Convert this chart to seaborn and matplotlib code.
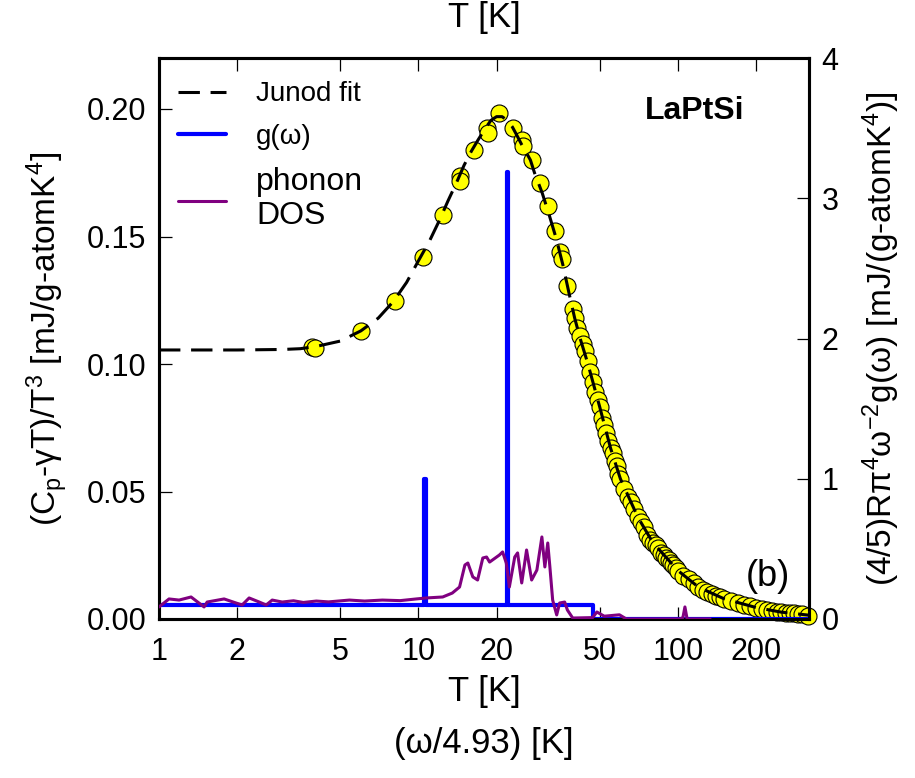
import numpy as np
import pandas as pd
import matplotlib
matplotlib.use("Agg")
import matplotlib.pyplot as plt
from matplotlib.ticker import FixedLocator, NullLocator, FixedFormatter
import seaborn as sns

# ---------------- data ----------------
# measured (Cp - gamma T)/T^3 points
cp_T = [3.9, 4.0, 6.0, 8.1, 10.4, 12.4, 14.4, 14.5, 16.4, 18.3, 18.5, 20.5,
        23.1, 25.0, 25.2, 27.3, 29.3, 31.5, 33.5, 35.0, 35.7, 37.3, 39.3,
        40, 41, 42, 43, 44, 45, 46, 47, 48, 49, 50, 51, 52, 53, 54, 55, 56,
        57, 58, 59, 60, 62, 64, 66, 68, 70, 72, 74, 76, 78, 80, 82, 84, 86,
        88, 90, 92, 94, 96, 98, 100, 105, 110, 115, 120, 125, 130, 135, 140,
        145, 150, 160, 170, 180, 190, 200, 210, 220, 230, 240, 250, 260, 270,
        280, 290, 300, 318]
cp_val = [0.1067, 0.1064, 0.1130, 0.1248, 0.1421, 0.1583, 0.1736, 0.1717,
          0.1839, 0.1925, 0.1906, 0.1984, 0.1925, 0.1878, 0.1854, 0.1799,
          0.1709, 0.1618, 0.1520, 0.1441, 0.1413, 0.1307, 0.1217,
          0.118, 0.114, 0.111, 0.108, 0.105, 0.101, 0.097, 0.093, 0.089,
          0.086, 0.083, 0.079, 0.076, 0.073, 0.070, 0.067, 0.065, 0.062,
          0.060, 0.057, 0.055, 0.051, 0.048, 0.046, 0.043, 0.040, 0.038,
          0.036, 0.033, 0.031, 0.030, 0.029, 0.028, 0.026, 0.025, 0.024,
          0.023, 0.022, 0.021, 0.020, 0.019, 0.017, 0.0155, 0.014, 0.0125,
          0.0115, 0.0105, 0.0098, 0.0092, 0.0086, 0.0080, 0.0070, 0.0061,
          0.0055, 0.0050, 0.0045, 0.0041, 0.0036, 0.0032, 0.0029, 0.0027,
          0.0025, 0.0024, 0.0022, 0.0020, 0.0018, 0.0012]

# Junod fit curve
fit_T = [1, 2, 3, 3.5, 4, 5, 6, 7, 8, 9, 10, 11, 12, 13, 14, 15, 16, 17, 18,
         19, 20, 21, 22, 23, 24, 25, 26, 27, 28, 30, 32, 34, 36, 38, 40, 42,
         45, 50, 55, 60, 70, 80, 100, 120, 150, 200, 250, 320]
fit_val = [0.1055, 0.1055, 0.1057, 0.1060, 0.1068, 0.1090, 0.1130, 0.1180,
           0.1245, 0.1320, 0.1405, 0.1480, 0.1560, 0.1640, 0.1710, 0.1780,
           0.1835, 0.1880, 0.1920, 0.1955, 0.1970, 0.1970, 0.1955, 0.1930,
           0.1895, 0.1860, 0.1830, 0.1800, 0.1750, 0.1670, 0.1580, 0.1490,
           0.1390, 0.1280, 0.1180, 0.1100, 0.1000, 0.0830, 0.0670, 0.0550,
           0.0400, 0.0300, 0.0190, 0.0125, 0.0080, 0.0045, 0.0027, 0.0015]

# g(omega) histogram (bin edges in omega/4.93 [K], heights on right axis)
g_edges = [1, 10.55, 10.65, 21.95, 22.05, 47.0, 320]
g_heights = [0.10, 1.00, 0.10, 3.19, 0.10, 0.0]

# phonon DOS (right axis units)
dos_T = [1.0, 1.093, 1.195, 1.329, 1.492, 1.533, 1.782, 1.982, 2.092, 2.225,
         2.434, 2.589, 2.731, 2.985, 3.3, 3.6, 4.04, 4.5, 5.42, 6.2, 7.26,
         8.5, 9.81, 10.73, 12.4, 13.5, 14.4, 15.1, 15.5, 16.2, 16.9, 17.7,
         18.3, 18.8, 20.5, 21.1, 21.8, 22.4, 23.5, 24.1, 25.0, 26.1, 27.3,
         28.6, 29.9, 30.7, 31.5, 32.1, 32.9, 34.1, 35.0, 36.6, 37.5, 39.3,
         46.9, 48.7, 52.0, 59.5, 63.3, 101.7, 104.5, 106.4, 108.5, 133]
dos_val = [0.086, 0.143, 0.135, 0.157, 0.086, 0.121, 0.143, 0.114, 0.100,
           0.150, 0.121, 0.100, 0.135, 0.121, 0.130, 0.118, 0.128, 0.122,
           0.135, 0.128, 0.135, 0.131, 0.143, 0.150, 0.157, 0.185, 0.228,
           0.385, 0.399, 0.300, 0.278, 0.435, 0.442, 0.406, 0.456, 0.478,
           0.399, 0.228, 0.442, 0.471, 0.257, 0.492, 0.278, 0.349, 0.585,
           0.371, 0.542, 0.371, 0.135, 0.029, 0.114, 0.121, 0.064, 0.007,
           0.010, 0.050, 0.020, 0.030, 0.0, 0.0, 0.010, 0.086, 0.0, 0.0]

x_ticks = [1, 2, 5, 10, 20, 50, 100, 200]
x_ticklabels = ["1", "2", "5", "10", "20", "50", "100", "200"]
yl_ticks = [0.00, 0.05, 0.10, 0.15, 0.20]
yr_ticks = [0, 1, 2, 3, 4]

# ---------------- style ----------------
sns.set_style("white")
plt.rcParams["font.family"] = ["Liberation Sans", "DejaVu Sans"]
plt.rcParams["mathtext.fontset"] = "custom"
plt.rcParams["mathtext.rm"] = "Liberation Sans"
plt.rcParams["mathtext.it"] = "Liberation Sans:italic"
plt.rcParams["mathtext.bf"] = "Liberation Sans:bold"
for key in ("text.color", "axes.labelcolor", "xtick.color", "ytick.color",
            "axes.edgecolor"):
    plt.rcParams[key] = "black"

fig = plt.figure(figsize=(9.15, 7.78), dpi=100)
ax = fig.add_axes([159 / 915, 1 - 619 / 778, 650 / 915, 561 / 778])
axr = ax.twinx()

cp_df = pd.DataFrame({"T": cp_T, "val": cp_val})
fit_df = pd.DataFrame({"T": fit_T, "val": fit_val})
g_df = pd.DataFrame({"T": g_edges, "val": g_heights + [g_heights[-1]]})
dos_df = pd.DataFrame({"T": dos_T, "val": dos_val})

sns.scatterplot(data=cp_df, x="T", y="val", ax=ax, s=150, color="#ffff00",
                edgecolor="black", linewidth=0.8, zorder=2, clip_on=False,
                legend=False)
sns.lineplot(data=fit_df, x="T", y="val", ax=ax, color="black", lw=2.2,
             linestyle=(0, (7, 3.5)), sort=False, estimator=None, zorder=3,
             label="Junod fit")

sns.lineplot(data=g_df, x="T", y="val", ax=axr, color="#0000ff", lw=3.0,
             drawstyle="steps-post", sort=False, estimator=None, zorder=2,
             label="g(ω)")
sns.lineplot(data=dos_df, x="T", y="val", ax=axr, color="#800080", lw=2.2,
             sort=False, estimator=None, zorder=3, label="phonon\nDOS")

ax.set_xscale("log")
ax.set_xlim(1, 320)
ax.set_ylim(0, 0.22)
axr.set_ylim(0, 4)

ax.xaxis.set_major_locator(FixedLocator(x_ticks))
ax.xaxis.set_major_formatter(FixedFormatter(x_ticklabels))
ax.xaxis.set_minor_locator(NullLocator())
ax.set_yticks(yl_ticks)
ax.set_yticklabels([f"{v:.2f}" for v in yl_ticks])
axr.set_yticks(yr_ticks)
axr.set_yticklabels([str(v) for v in yr_ticks])

ax.tick_params(axis="x", which="major", direction="in", top=True,
               bottom=True, length=9, width=0.9, labelsize=22, pad=13)
ax.tick_params(axis="y", direction="in", length=9, width=0.9, labelsize=22,
               pad=9, right=False)
axr.tick_params(axis="y", direction="in", length=9, width=0.9, labelsize=22,
                pad=9)

for a in (ax, axr):
    for s in a.spines.values():
        s.set_linewidth(2.2)
        s.set_color("black")

ax.set_xlabel("T [K]\n(ω/4.93) [K]", fontsize=25, labelpad=6,
              linespacing=1.7)
ax.set_title("T [K]", fontsize=25, pad=22)
ax.set_ylabel("(C$_{\\rm p}$-γT)/T$^{3}$ [mJ/g-atomK$^{4}$]", fontsize=24,
              labelpad=12)
axr.set_ylabel("(4/5)Rπ$^{4}$ω$^{-2}$g(ω) [mJ/(g-atomK$^{4}$)]",
               fontsize=24, labelpad=16)

if ax.get_legend() is not None:
    ax.get_legend().remove()
h1, l1 = ax.get_legend_handles_labels()
h2, l2 = axr.get_legend_handles_labels()
leg = axr.legend(h1 + h2, l1 + l2, loc="upper left", frameon=False,
                 fontsize=20, handlelength=1.7, handletextpad=1.1,
                 labelspacing=0.6, borderaxespad=0.3,
                 bbox_to_anchor=(0.0, 0.993))
leg.get_texts()[2].set_fontsize(23)

axr.text(0.90, 0.905, "LaPtSi", transform=ax.transAxes, fontsize=23,
         fontweight="bold", ha="right", va="center")
axr.text(0.97, 0.075, "(b)", transform=ax.transAxes, fontsize=26,
         ha="right", va="center")

fig.savefig("out.png", dpi=100)
